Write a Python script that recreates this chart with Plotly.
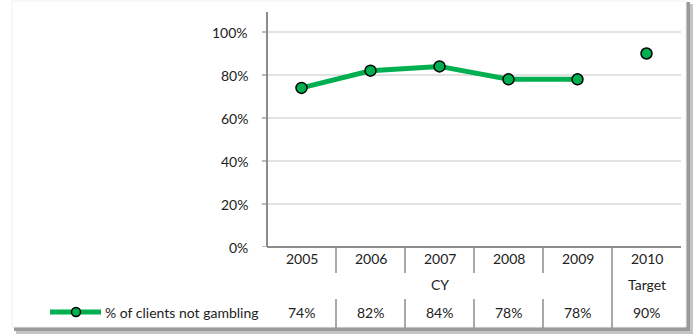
import plotly.graph_objects as go

years = ["2005", "2006", "2007", "2008", "2009", "2010"]
group_labels = ["CY", "Target"]
group_sizes = [5, 1]
series_name = "% of clients not gambling"
actual_values = [0.74, 0.82, 0.84, 0.78, 0.78]
target_values = [0.90]
y_ticks = [0, 0.2, 0.4, 0.6, 0.8, 1.0]

GREEN = "#00B050"
AXIS = "#8c8c8c"
GRID = "#d9d9d9"
FONT = "Lato"
FS = 14

W, H = 694, 335
L, R, T, B = 267, 13, 12, 88
plot_h = H - T - B

def py(px):
    """pixel y (from top) -> paper y"""
    return (H - B - px) / plot_h

def pxx(px):
    return (px - L) / (W - L - R)

xs = list(range(len(years)))
fig = go.Figure()

fig.add_trace(go.Scatter(
    x=xs[:len(actual_values)], y=actual_values, mode="lines+markers",
    line=dict(color=GREEN, width=5),
    marker=dict(size=11, color=GREEN, line=dict(color="black", width=1.5)),
    showlegend=False, hoverinfo="skip"))
fig.add_trace(go.Scatter(
    x=xs[len(actual_values):], y=target_values, mode="markers",
    marker=dict(size=11, color=GREEN, line=dict(color="black", width=1.5)),
    showlegend=False, hoverinfo="skip"))

shapes = []
annotations = []

# chart area shadow and box
shapes.append(dict(type="rect", xref="paper", yref="paper",
                   x0=pxx(16), x1=pxx(693), y0=py(334), y1=py(4),
                   fillcolor="#c4c4c4", line=dict(width=0), layer="below"))
shapes.append(dict(type="rect", xref="paper", yref="paper",
                   x0=pxx(14), x1=pxx(690), y0=py(331), y1=py(2),
                   fillcolor="#9a9a9a", line=dict(width=0), layer="below"))
shapes.append(dict(type="rect", xref="paper", yref="paper",
                   x0=pxx(12), x1=pxx(686), y0=py(327), y1=py(1),
                   fillcolor="white", line=dict(color="#f0f0f0", width=1), layer="below"))

# gridlines
for t in y_ticks[1:]:
    shapes.append(dict(type="line", xref="paper", yref="y", x0=0, x1=1, y0=t, y1=t,
                       line=dict(color=GRID, width=1.5), layer="below"))
# y tick marks
for t in y_ticks:
    shapes.append(dict(type="line", xref="paper", yref="y", x0=pxx(262), x1=0, y0=t, y1=t,
                       line=dict(color=AXIS, width=1.2)))
    annotations.append(dict(x=pxx(250), y=t, xref="paper", yref="y", text=f"{int(round(t*100))}%",
                            showarrow=False, xanchor="right", yanchor="middle",
                            font=dict(family=FONT, size=FS, color="#222")))

# axis lines
shapes.append(dict(type="line", xref="paper", yref="paper", x0=0, x1=0, y0=0, y1=1,
                   line=dict(color=AXIS, width=2)))
shapes.append(dict(type="line", xref="paper", yref="paper", x0=0, x1=1, y0=0, y1=0,
                   line=dict(color=AXIS, width=2)))

# data table dividers
boundaries = []
acc = 0
for s in group_sizes:
    acc += s
    boundaries.append(acc - 0.5)
for i in range(len(years) - 1):
    b = i + 0.5
    if b in boundaries:
        shapes.append(dict(type="line", xref="x", yref="paper", x0=b, x1=b, y0=0, y1=py(328),
                           line=dict(color=AXIS, width=1.5)))
    else:
        shapes.append(dict(type="line", xref="x", yref="paper", x0=b, x1=b, y0=0, y1=py(273),
                           line=dict(color=AXIS, width=1.5)))
        shapes.append(dict(type="line", xref="x", yref="paper", x0=b, x1=b, y0=py(299), y1=py(328),
                           line=dict(color=AXIS, width=1.5)))

# table rows
for i, yr in enumerate(years):
    annotations.append(dict(x=i, y=py(258), xref="x", yref="paper", text=yr, showarrow=False,
                            xanchor="center", yanchor="middle",
                            font=dict(family=FONT, size=FS, color="#222")))
all_vals = actual_values + target_values
for i, v in enumerate(all_vals):
    annotations.append(dict(x=i, y=py(312), xref="x", yref="paper", text=f"{int(round(v*100))}%",
                            showarrow=False, xanchor="center", yanchor="middle",
                            font=dict(family=FONT, size=FS, color="#222")))
start = 0
for g, s in zip(group_labels, group_sizes):
    annotations.append(dict(x=start + (s - 1) / 2, y=py(284), xref="x", yref="paper", text=g,
                            showarrow=False, xanchor="center", yanchor="middle",
                            font=dict(family=FONT, size=FS, color="#222")))
    start += s

# legend key
shapes.append(dict(type="line", xref="paper", yref="paper", x0=pxx(50), x1=pxx(101),
                   y0=py(312), y1=py(312), line=dict(color=GREEN, width=5)))
shapes.append(dict(type="circle", xref="paper", yref="paper",
                   x0=pxx(71.5), x1=pxx(80.5), y0=py(316.5), y1=py(307.5),
                   fillcolor=GREEN, line=dict(color="black", width=1.5)))
annotations.append(dict(x=pxx(103), y=py(312), xref="paper", yref="paper", text=series_name,
                        showarrow=False, xanchor="left", yanchor="middle",
                        font=dict(family=FONT, size=FS, color="#222")))

top = (H - B - T) / 215.0  # 100% spans 215px
fig.update_layout(
    width=W, height=H,
    margin=dict(l=L, r=R, t=T, b=B),
    paper_bgcolor="white", plot_bgcolor="rgba(0,0,0,0)",
    xaxis=dict(range=[-0.5, len(years) - 0.5], showgrid=False, zeroline=False,
               showticklabels=False, showline=False, fixedrange=True),
    yaxis=dict(range=[0, top], showgrid=False, zeroline=False, showticklabels=False,
               showline=False, fixedrange=True),
    shapes=shapes, annotations=annotations, showlegend=False,
)
fig.write_html("out.html", config={"displayModeBar": False, "staticPlot": True},
               post_script="document.body.style.margin='0';document.body.style.overflow='hidden';")
